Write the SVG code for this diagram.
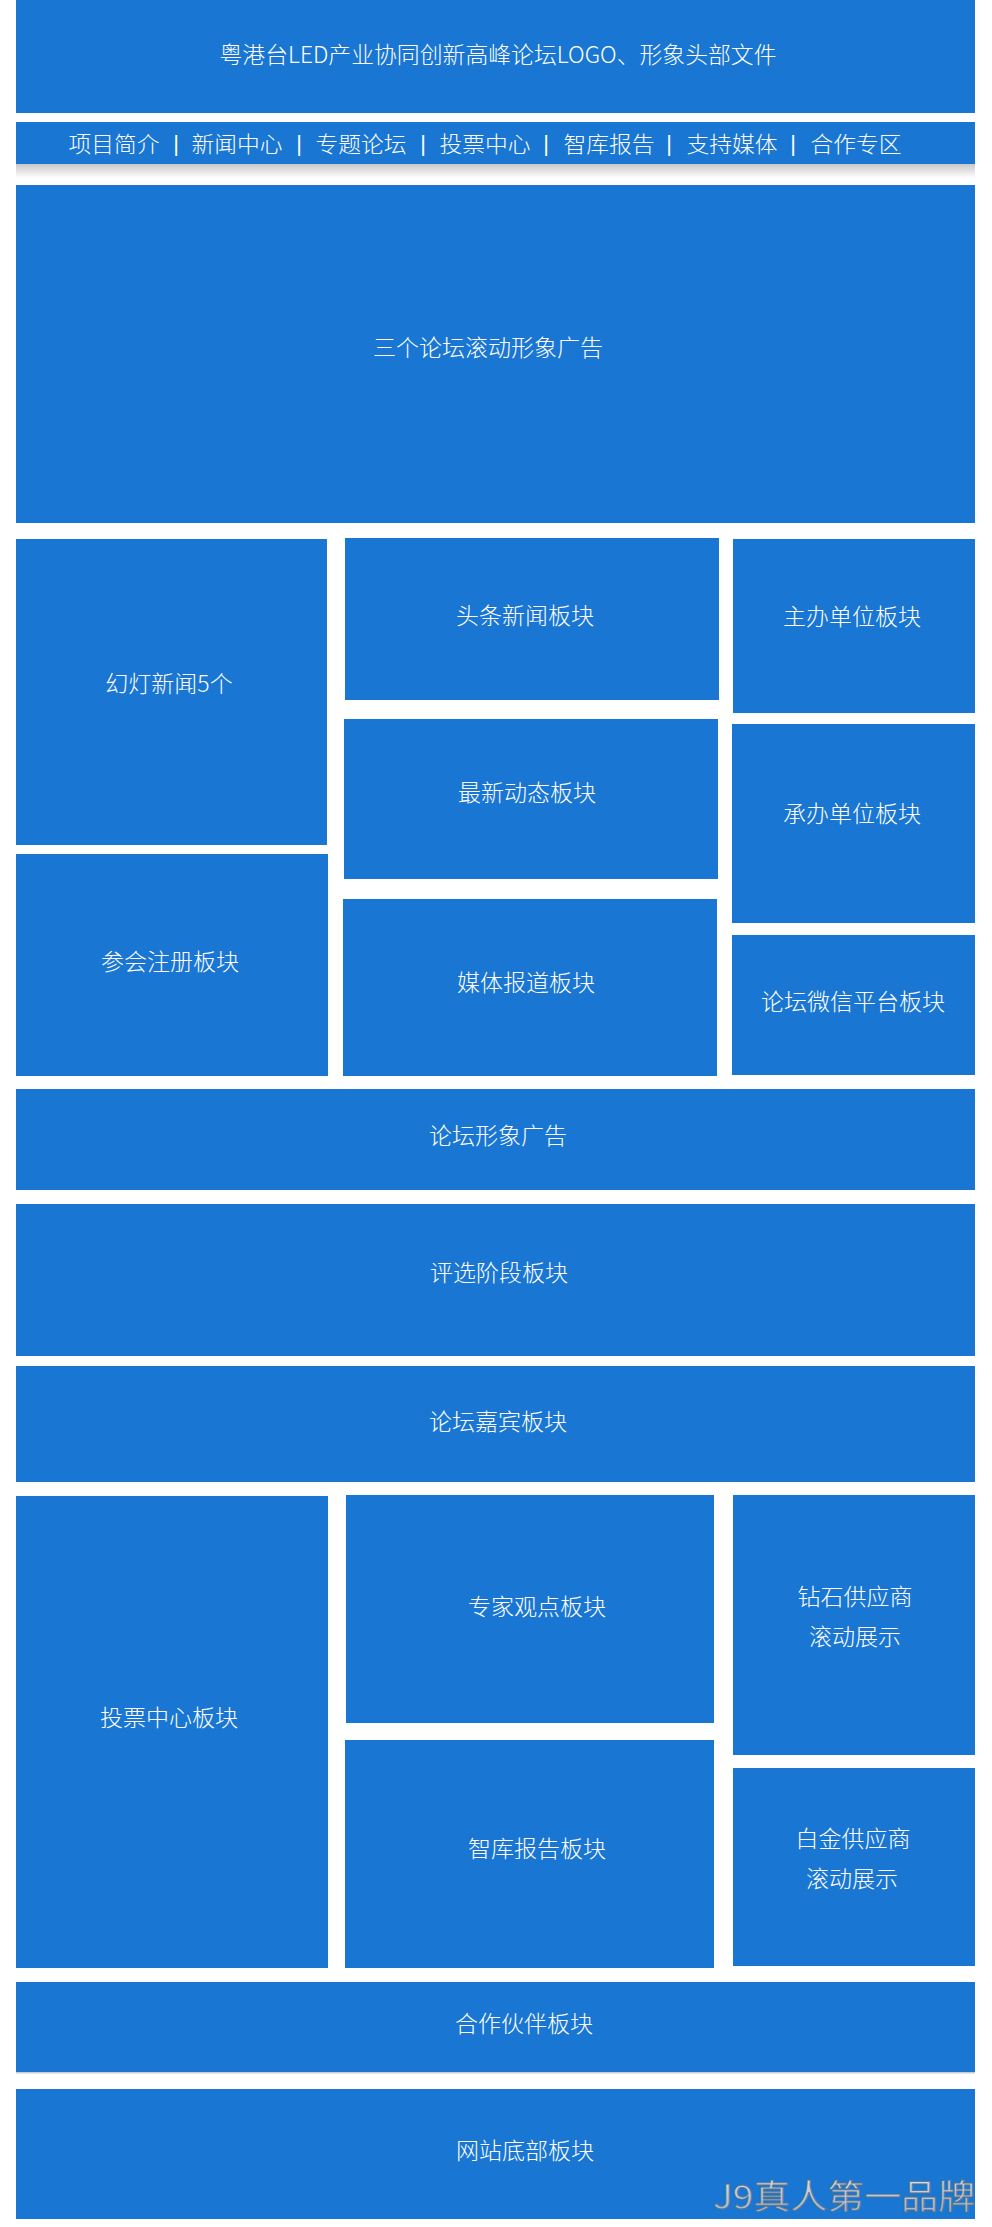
<svg xmlns="http://www.w3.org/2000/svg" width="992" height="2227" viewBox="0 0 992 2227">
<style>
.blk{fill:#1976D2}
.lbl{fill:#ffffff;font-family:"Noto Sans CJK SC","Noto Sans",sans-serif;font-size:23px;font-weight:300;text-anchor:middle;dominant-baseline:central}
.nav{fill:#ffffff;font-family:"Noto Sans CJK SC","Noto Sans",sans-serif;font-size:22px;font-weight:300;text-anchor:middle;dominant-baseline:central}
.sep{fill:#ffffff;font-family:"Liberation Sans",sans-serif;font-size:22px;text-anchor:middle;dominant-baseline:central}
</style>
<defs>
<linearGradient id="shadow" x1="0" y1="0" x2="0" y2="1">
<stop offset="0" stop-color="#c8c8c8"/>
<stop offset="1" stop-color="#ffffff"/>
</linearGradient>
<linearGradient id="wm" x1="0" y1="0" x2="0" y2="1">
<stop offset="0" stop-color="#e2eaf2"/>
<stop offset="1" stop-color="#98adc2"/>
</linearGradient>
</defs>
<rect width="992" height="2227" fill="#ffffff"/>

<g id="header">
<rect class="blk" x="16" y="0" width="959" height="113"/>
<text class="lbl" x="498" y="53" font-size="21" textLength="557" lengthAdjust="spacingAndGlyphs">粤港台LED产业协同创新高峰论坛LOGO、形象头部文件</text>
</g>

<g id="nav">
<rect class="blk" x="16" y="122" width="959" height="42"/>
<rect x="16" y="164" width="959" height="14" fill="url(#shadow)"/>
<text class="nav" x="114" y="142" textLength="91" lengthAdjust="spacingAndGlyphs">项目简介</text>
<text class="sep" x="176" y="143">|</text>
<text class="nav" x="237" y="142" textLength="91" lengthAdjust="spacingAndGlyphs">新闻中心</text>
<text class="sep" x="299" y="143">|</text>
<text class="nav" x="361" y="142" textLength="91" lengthAdjust="spacingAndGlyphs">专题论坛</text>
<text class="sep" x="423" y="143">|</text>
<text class="nav" x="485" y="142" textLength="91" lengthAdjust="spacingAndGlyphs">投票中心</text>
<text class="sep" x="546" y="143">|</text>
<text class="nav" x="609" y="142" textLength="91" lengthAdjust="spacingAndGlyphs">智库报告</text>
<text class="sep" x="669" y="143">|</text>
<text class="nav" x="732" y="142" textLength="91" lengthAdjust="spacingAndGlyphs">支持媒体</text>
<text class="sep" x="793" y="143">|</text>
<text class="nav" x="856" y="142" textLength="91" lengthAdjust="spacingAndGlyphs">合作专区</text>
</g>

<g id="hero">
<rect class="blk" x="16" y="185" width="959" height="338"/>
<text class="lbl" x="488" y="346">三个论坛滚动形象广告</text>
</g>

<g id="slides">
<rect class="blk" x="16" y="539" width="311" height="306"/>
<text class="lbl" x="169" y="682">幻灯新闻5个</text>
</g>
<g id="register">
<rect class="blk" x="16" y="854" width="312" height="222"/>
<text class="lbl" x="170" y="960">参会注册板块</text>
</g>
<g id="headline">
<rect class="blk" x="345" y="538" width="374" height="162"/>
<text class="lbl" x="525" y="614">头条新闻板块</text>
</g>
<g id="latest">
<rect class="blk" x="344" y="719" width="374" height="160"/>
<text class="lbl" x="527" y="791">最新动态板块</text>
</g>
<g id="media">
<rect class="blk" x="343" y="899" width="374" height="177"/>
<text class="lbl" x="526" y="981">媒体报道板块</text>
</g>
<g id="host">
<rect class="blk" x="733" y="539" width="242" height="174"/>
<text class="lbl" x="852" y="615">主办单位板块</text>
</g>
<g id="organizer">
<rect class="blk" x="732" y="724" width="243" height="199"/>
<text class="lbl" x="852" y="812">承办单位板块</text>
</g>
<g id="wechat">
<rect class="blk" x="732" y="935" width="243" height="140"/>
<text class="lbl" x="853" y="1000">论坛微信平台板块</text>
</g>

<g id="forum-ad">
<rect class="blk" x="16" y="1089" width="959" height="101"/>
<text class="lbl" x="498" y="1134">论坛形象广告</text>
</g>
<g id="selection">
<rect class="blk" x="16" y="1204" width="959" height="152"/>
<text class="lbl" x="499" y="1271">评选阶段板块</text>
</g>
<g id="guests">
<rect class="blk" x="16" y="1366" width="959" height="116"/>
<text class="lbl" x="498" y="1420">论坛嘉宾板块</text>
</g>

<g id="vote">
<rect class="blk" x="16" y="1496" width="312" height="472"/>
<text class="lbl" x="169" y="1716">投票中心板块</text>
</g>
<g id="expert">
<rect class="blk" x="346" y="1495" width="368" height="228"/>
<text class="lbl" x="537" y="1605">专家观点板块</text>
</g>
<g id="report">
<rect class="blk" x="345" y="1740" width="369" height="228"/>
<text class="lbl" x="537" y="1847">智库报告板块</text>
</g>
<g id="diamond">
<rect class="blk" x="733" y="1495" width="242" height="260"/>
<text class="lbl" x="855" y="1595">钻石供应商</text>
<text class="lbl" x="855" y="1635">滚动展示</text>
</g>
<g id="platinum">
<rect class="blk" x="733" y="1768" width="242" height="198"/>
<text class="lbl" x="853" y="1837">白金供应商</text>
<text class="lbl" x="852" y="1877">滚动展示</text>
</g>

<g id="partners">
<rect class="blk" x="16" y="1982" width="959" height="90"/>
<rect x="16" y="2072" width="959" height="1.5" fill="#cccccc"/>
<text class="lbl" x="524" y="2022">合作伙伴板块</text>
</g>
<g id="footer">
<rect class="blk" x="16" y="2089" width="959" height="130"/>
<text class="lbl" x="525" y="2149">网站底部板块</text>
</g>

<g id="watermark">
<text x="713" y="2194" font-family="Noto Sans CJK SC,sans-serif" font-size="34" dominant-baseline="central" textLength="262" lengthAdjust="spacingAndGlyphs" fill="url(#wm)" stroke="#5a7088" stroke-width="0.8">J9真人第一品牌</text>
</g>

<g id="connectors"></g>
</svg>
